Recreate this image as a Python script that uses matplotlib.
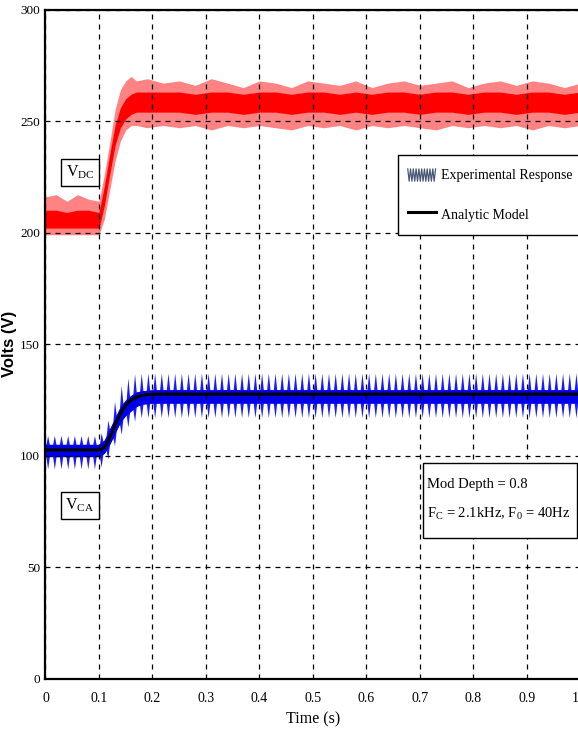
import numpy as np
import matplotlib
matplotlib.use("Agg")
import matplotlib.pyplot as plt
from matplotlib.lines import Line2D
from matplotlib.patches import Rectangle
from matplotlib.legend_handler import HandlerBase

plt.rcParams["font.family"] = ["Liberation Serif", "DejaVu Serif"]
plt.rcParams["mathtext.fontset"] = "custom"
plt.rcParams["mathtext.rm"] = "Liberation Serif"
plt.rcParams["mathtext.it"] = "Liberation Serif:italic"

# ---------------- data ----------------
x_ticks = [0, 0.1, 0.2, 0.3, 0.4, 0.5, 0.6, 0.7, 0.8, 0.9, 1.0]
x_tick_labels = ["0", "0.1", "0.2", "0.3", "0.4", "0.5", "0.6", "0.7", "0.8", "0.9", "1.0"]
y_ticks = [0, 50, 100, 150, 200, 250, 300]

# DC-link voltage (experimental, red) envelope
t_dc = [0.00, 0.02, 0.04, 0.06, 0.08, 0.10, 0.11, 0.12, 0.13, 0.14, 0.15, 0.16, 0.17,
        0.19, 0.22, 0.25, 0.28, 0.31, 0.34, 0.37, 0.40, 0.43, 0.46, 0.49, 0.52, 0.55,
        0.58, 0.61, 0.64, 0.67, 0.70, 0.73, 0.76, 0.79, 0.82, 0.85, 0.88, 0.91, 0.94,
        0.97, 1.00]
vdc_peak_hi = [216, 217, 214, 217, 215, 214, 226, 240, 255, 264, 268, 270, 268,
               269, 267, 268, 266, 269, 267, 265, 268, 267, 265, 268, 267, 266,
               268, 265, 267, 268, 266, 267, 268, 265, 267, 268, 266, 268, 267,
               265, 267]
vdc_core_hi = [210, 210, 209, 210, 210, 209, 221, 235, 248, 256, 260, 262, 263,
               263, 263, 263, 262, 263, 263, 262, 263, 263, 262, 263, 263, 262,
               263, 262, 263, 263, 262, 263, 263, 262, 263, 263, 262, 263, 263,
               262, 263]
vdc_core_lo = [202, 202, 202, 202, 202, 202, 212, 226, 239, 247, 251, 253, 254,
               254, 254, 254, 253, 254, 254, 253, 254, 254, 253, 254, 254, 253,
               254, 253, 254, 254, 253, 254, 254, 253, 254, 254, 253, 254, 254,
               253, 254]
vdc_peak_lo = [199, 199, 199, 199, 199, 199, 206, 219, 232, 241, 246, 248, 248,
               247, 248, 247, 248, 246, 248, 247, 248, 247, 246, 248, 247, 248,
               246, 248, 247, 248, 247, 246, 248, 247, 248, 247, 248, 246, 248,
               247, 248]

# AC capacitor voltage (experimental, blue) envelope
t_ca = [0.00, 0.10, 0.11, 0.12, 0.13, 0.14, 0.15, 0.16, 0.17, 0.18, 0.20, 1.00]
vca_spike_hi = [109, 109, 112, 118, 125, 131, 134, 136, 137, 137, 137, 137]
vca_core_hi = [105, 105, 107, 112, 117, 122, 125, 127, 128.5, 129, 129.5, 129.5]
vca_core_lo = [99.5, 99.5, 101, 105, 110, 115, 118, 120, 122, 123, 123.5, 123.5]
vca_spike_lo = [94, 94, 96, 100, 105, 109, 112, 114, 116, 117, 117, 117]
ripple_hz = 80  # ripple at 2 x F0 (F0 = 40 Hz)

# Analytic model (black)
t_model = [0.00, 0.100, 0.105, 0.110, 0.115, 0.120, 0.125, 0.130, 0.135, 0.140,
           0.145, 0.150, 0.155, 0.160, 0.170, 0.180, 0.190, 0.200, 1.00]
v_model = [102.5, 102.5, 102.8, 103.8, 105.6, 108.0, 110.8, 113.7, 116.4, 118.8,
           120.9, 122.6, 123.9, 124.9, 126.2, 126.9, 127.3, 127.5, 127.5]

legend_labels = ["Experimental Response", "Analytic Model"]
info_text = "Mod Depth = 0.8\nF$_{\\rm C}$ = 2.1kHz, F$_{\\rm 0}$ = 40Hz"

# ---------------- figure ----------------
fig = plt.figure(figsize=(5.78, 7.40), dpi=100)
ax = fig.add_axes([0.0787, 0.0831, 0.9256, 0.9040])

# red band
ax.fill_between(t_dc, vdc_peak_lo, vdc_peak_hi, color="#ff3030", alpha=0.6, lw=0, zorder=1)
ax.fill_between(t_dc, vdc_core_lo, vdc_core_hi, color="#ff0000", lw=0, zorder=1.1)

# blue band with ripple spikes
tf = np.linspace(0, 1.0, 8001)
period = 1.0 / ripple_hz
phase = (tf - 0.004) % period
dist = np.minimum(phase, period - phase)
w = 0.0032
tri = np.clip(1 - dist / w, 0, 1)
chi = np.interp(tf, t_ca, vca_core_hi)
clo = np.interp(tf, t_ca, vca_core_lo)
shi = np.interp(tf, t_ca, vca_spike_hi)
slo = np.interp(tf, t_ca, vca_spike_lo)
upper = chi + (shi - chi) * tri
lower = clo - (clo - slo) * tri
ax.fill_between(tf, lower, upper, color="#1a1aff", lw=0, zorder=1.2)
ax.fill_between(t_ca, vca_core_lo, vca_core_hi, color="#0000e6", lw=0, zorder=1.3)

# analytic model
ax.plot(t_model, v_model, color="black", lw=2.2, zorder=3)

ax.set_xlim(0, 1.0)
ax.set_ylim(0, 300)
ax.set_xticks(x_ticks)
ax.set_xticklabels(x_tick_labels)
ax.set_yticks(y_ticks)
ax.tick_params(length=0, labelsize=10, pad=4)
ax.tick_params(axis="y", labelsize=9.5)
ax.tick_params(axis="x", pad=10)

ax.set_axisbelow(False)
ax.grid(True, color="black", linestyle=(0, (4, 4)), lw=0.9)

for s in ["left", "bottom", "top"]:
    ax.spines[s].set_linewidth(1.6)
ax.spines["right"].set_visible(False)

ax.set_xlabel("Time (s)", fontsize=11.5, labelpad=4)
ax.set_ylabel("Volts (V)", fontsize=12, fontweight="bold",
              family=["Liberation Sans", "DejaVu Sans"])
ax.yaxis.set_label_coords(-0.053, 0.50)


class ZigZag(HandlerBase):
    def create_artists(self, legend, orig_handle, xdescent, ydescent,
                       width, height, fontsize, trans):
        n = 10
        xs = np.linspace(-xdescent, -xdescent + width, 2 * n + 1)
        ys = [(-ydescent + height * (0.2 if i % 2 else 0.8)) for i in range(2 * n + 1)]
        ln = Line2D(xs, ys, color="#4a5878", lw=0.9, transform=trans)
        return [ln]


h_exp = Line2D([], [], color="#4a5878")
h_mod = Line2D([], [], color="black", lw=2.2)
leg = ax.legend([h_exp, h_mod], legend_labels, loc="upper left",
                bbox_to_anchor=(0.659, 0.7825), borderaxespad=0,
                fontsize=10, frameon=True, fancybox=False, framealpha=1,
                edgecolor="black", handlelength=2.0, handletextpad=0.4,
                handleheight=1.9, labelspacing=1.4, borderpad=0.7,
                handler_map={h_exp: ZigZag()})
leg.get_frame().set_linewidth(1.0)
leg.set_zorder(5)

box = dict(boxstyle="square,pad=0.3", fc="white", ec="black", lw=1)
ax.text(0.0645, 0.757, "V$_{\\rm DC}$", transform=ax.transAxes, fontsize=11.5,
        ha="center", va="center", bbox=box, zorder=5)
ax.text(0.0645, 0.259, "V$_{\\rm CA}$", transform=ax.transAxes, fontsize=11.5,
        ha="center", va="center", bbox=box, zorder=5)

ax.add_patch(Rectangle((0.7056, 0.210), 0.287, 0.112, transform=ax.transAxes,
                       fc="white", ec="black", lw=1, zorder=5))
ax.text(0.714, 0.267, info_text, transform=ax.transAxes, fontsize=10.5,
        ha="left", va="center", linespacing=2.3, zorder=6)

fig.savefig("out.png", dpi=100)
